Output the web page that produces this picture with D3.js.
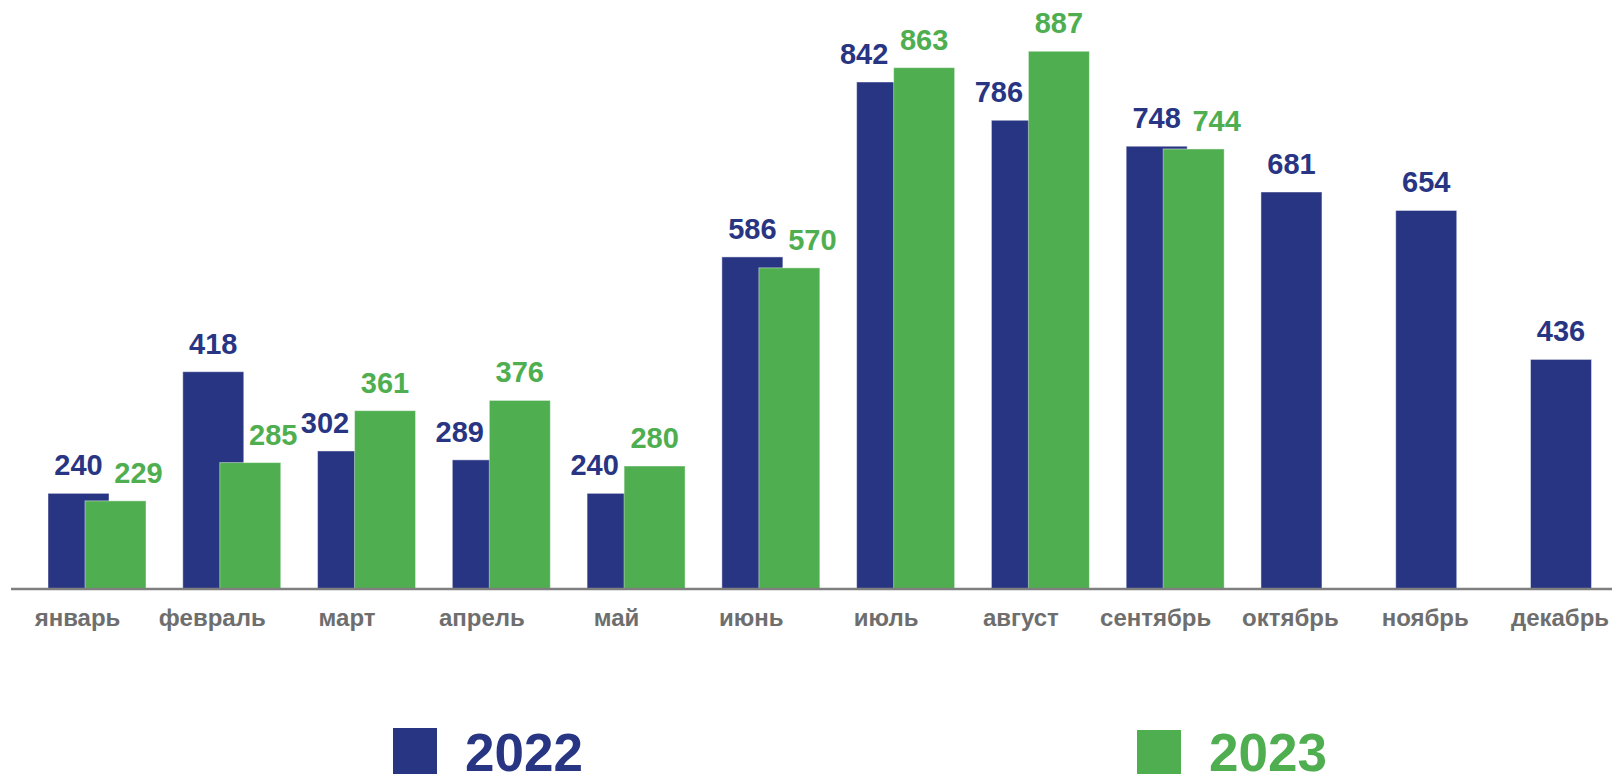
<!DOCTYPE html>
<html>
<head>
<meta charset="utf-8">
<script src="https://cdn.jsdelivr.net/npm/d3@7/dist/d3.min.js"></script>
<style>
  html, body { margin: 0; padding: 0; background: #fff; }
  svg { display: block; }
  text { font-family: "Liberation Sans", Arial, sans-serif; font-weight: bold; }
</style>
</head>
<body>
<svg id="chart" width="1612" height="774"></svg>
<script>
const months = ["январь","февраль","март","апрель","май","июнь","июль","август","сентябрь","октябрь","ноябрь","декабрь"];
const series = ["2022","2023"];
const values2022 = [240,418,302,289,240,586,842,786,748,681,654,436];
const values2023 = [229,285,361,376,280,570,863,887,744,null,null,null];
const colors = ["#283583","#4fae4f"];

const W = 1612, H = 774;
const svg = d3.select("#chart");

const x = d3.scalePoint().domain(months).range([78.5, 1561]);
const y = d3.scaleLinear().domain([100, 962]).range([589, 0]);
const barW = 61;
const off = d3.scaleOrdinal().domain(series).range([-30.5, 6.5]);

const data = [];
months.forEach((m, i) => {
  const a = values2022[i], b = values2023[i];
  [[series[0], a, b], [series[1], b, a]].forEach(([s, v, other], k) => {
    if (v == null) return;
    let shift = 0;
    if (other != null && v < other) shift = k === 0 ? -23 : 23;
    data.push({ m, s, v, k, shift });
  });
});

// bars
svg.append("g").selectAll("rect").data(data).join("rect")
  .attr("x", d => x(d.m) + off(d.s))
  .attr("y", d => y(d.v))
  .attr("width", barW)
  .attr("height", d => y(100) - y(d.v))
  .attr("fill", d => colors[d.k])
  .attr("stroke", "rgba(255,255,255,0.45)")
  .attr("stroke-width", 1);

// axis line
svg.append("line")
  .attr("x1", 11).attr("x2", W)
  .attr("y1", y(100)).attr("y2", y(100))
  .attr("stroke", "#7f7f7f").attr("stroke-width", 2.5);

// value labels
svg.append("g").selectAll("text").data(data).join("text")
  .attr("x", d => x(d.m) + off(d.s) + barW / 2 + d.shift)
  .attr("y", d => y(d.v) - 18)
  .attr("text-anchor", "middle")
  .attr("font-size", 29)
  .attr("fill", d => colors[d.k])
  .text(d => d.v);

// month labels
svg.append("g").selectAll("text").data(months).join("text")
  .attr("x", d => x(d) - 1)
  .attr("y", 626)
  .attr("text-anchor", "middle")
  .attr("font-size", 24)
  .attr("fill", "#6e6e6e")
  .text(d => d);

// legend
const legendX = [393, 1137];
const legendTop = [728, 730];
const lg = svg.append("g").selectAll("g").data(series).join("g");
lg.append("rect")
  .attr("x", (d, i) => legendX[i])
  .attr("y", (d, i) => legendTop[i])
  .attr("width", 44).attr("height", 50)
  .attr("fill", (d, i) => colors[i]);
lg.append("text")
  .attr("x", (d, i) => legendX[i] + 72)
  .attr("y", 771)
  .attr("font-size", 53)
  .attr("fill", (d, i) => colors[i])
  .text(d => d);
</script>
</body>
</html>
